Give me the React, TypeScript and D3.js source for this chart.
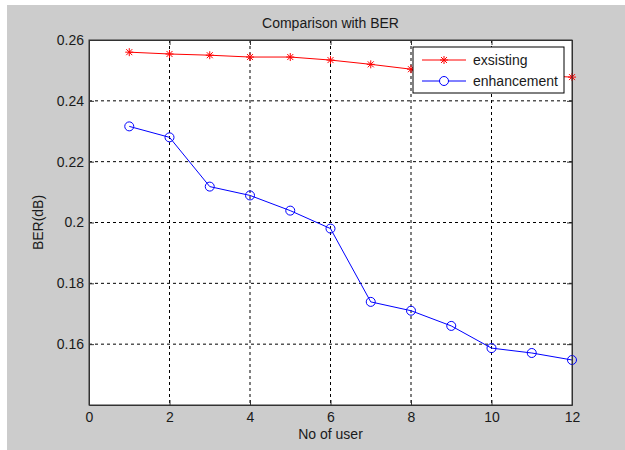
import { useEffect, useRef } from "react";
import * as d3 from "d3";

// values
const users = [1, 2, 3, 4, 5, 6, 7, 8, 9, 10, 11, 12];
const existing = [0.256, 0.2554, 0.255, 0.2544, 0.2544, 0.2534, 0.252, 0.2504, 0.2497, 0.249, 0.2484, 0.2478];
const enhancement = [0.2316, 0.228, 0.2118, 0.2089, 0.2039, 0.198, 0.1739, 0.171, 0.166, 0.1587, 0.1571, 0.1548];
const xTicks = [0, 2, 4, 6, 8, 10, 12];
const yTicks = [0.16, 0.18, 0.2, 0.22, 0.24, 0.26];
const seriesNames = ["exsisting", "enhancement"];

const App = () => {
    const svgRef = useRef<SVGSVGElement>(null);

    useEffect(() => {
        const W = 625;
        const H = 450;
        const margin = { top: 40, right: 53, bottom: 45, left: 89 };
        const width = W - margin.left - margin.right;
        const height = H - margin.top - margin.bottom;
        const font = "'Liberation Sans', Arial, sans-serif";
        const fontSize = 14;
        const textColor = "#1a1a1a";

        const root = d3.select(svgRef.current);
        root.selectAll("*").remove();
        root.attr("width", W).attr("height", H);

        // figure background
        root.append("rect").attr("width", W).attr("height", H).attr("fill", "#fff");
        root.append("rect")
            .attr("x", 7).attr("y", 5)
            .attr("width", W - 7).attr("height", H - 5)
            .attr("fill", "#cccccc");

        const svg = root.append("g").attr("transform", `translate(${margin.left},${margin.top})`);

        const x = d3.scaleLinear().domain([0, 12]).range([0, width]);
        const y = d3.scaleLinear().domain([0.14, 0.26]).range([height, 0]);

        svg.append("rect").attr("width", width).attr("height", height).attr("fill", "#fff");

        // dotted grid
        svg.append("g")
            .selectAll("line")
            .data(xTicks.slice(1, -1))
            .join("line")
            .attr("x1", (d) => x(d)).attr("x2", (d) => x(d))
            .attr("y1", 0).attr("y2", height)
            .attr("stroke", "#000").attr("stroke-width", 1)
            .attr("stroke-dasharray", "3,3");
        svg.append("g")
            .selectAll("line")
            .data(yTicks.slice(0, -1))
            .join("line")
            .attr("x1", 0).attr("x2", width)
            .attr("y1", (d) => y(d)).attr("y2", (d) => y(d))
            .attr("stroke", "#000").attr("stroke-width", 1)
            .attr("stroke-dasharray", "3,3");

        // axes with inward ticks
        const xAxis = svg.append("g")
            .attr("transform", `translate(0,${height})`)
            .call(d3.axisBottom(x).tickValues(xTicks).tickSizeInner(-5).tickSizeOuter(0).tickPadding(7));
        const xTop = svg.append("g")
            .call(d3.axisTop(x).tickValues(xTicks).tickSizeInner(-5).tickSizeOuter(0).tickFormat(() => ""));
        const yAxis = svg.append("g")
            .call(d3.axisLeft(y).tickValues(yTicks).tickSizeInner(-5).tickSizeOuter(0).tickPadding(5)
                .tickFormat((d) => String(+(+d).toFixed(2))));
        const yRight = svg.append("g")
            .attr("transform", `translate(${width},0)`)
            .call(d3.axisRight(y).tickValues(yTicks).tickSizeInner(-5).tickSizeOuter(0).tickFormat(() => ""));

        [xAxis, xTop, yAxis, yRight].forEach((g) => {
            g.selectAll("path").attr("stroke", "#333");
            g.selectAll("line").attr("stroke", "#333");
            g.selectAll("text")
                .attr("font-family", font)
                .attr("font-size", fontSize)
                .attr("fill", textColor);
        });

        const line = d3.line<number>()
            .x((_, i) => x(users[i]))
            .y((d) => y(d));

        // existing series (red, star markers)
        svg.append("path")
            .datum(existing)
            .attr("fill", "none")
            .attr("stroke", "#ff0000")
            .attr("stroke-width", 1)
            .attr("d", line);

        const star = (g, cx, cy, color) => {
            const s = 4;
            const gg = g.append("g").attr("stroke", color).attr("stroke-width", 1);
            gg.append("line").attr("x1", cx - s).attr("x2", cx + s).attr("y1", cy).attr("y2", cy);
            gg.append("line").attr("x1", cx).attr("x2", cx).attr("y1", cy - s).attr("y2", cy + s);
            gg.append("line").attr("x1", cx - 3).attr("x2", cx + 3).attr("y1", cy - 3).attr("y2", cy + 3);
            gg.append("line").attr("x1", cx - 3).attr("x2", cx + 3).attr("y1", cy + 3).attr("y2", cy - 3);
        };
        existing.forEach((d, i) => star(svg, x(users[i]), y(d), "#ff0000"));

        // enhancement series (blue, circle markers)
        svg.append("path")
            .datum(enhancement)
            .attr("fill", "none")
            .attr("stroke", "#0000ff")
            .attr("stroke-width", 1)
            .attr("d", line);
        svg.append("g")
            .selectAll("circle")
            .data(enhancement)
            .join("circle")
            .attr("cx", (_, i) => x(users[i]))
            .attr("cy", (d) => y(d))
            .attr("r", 4.5)
            .attr("fill", "none")
            .attr("stroke", "#0000ff")
            .attr("stroke-width", 1);

        // legend
        const legend = svg.append("g").attr("transform", `translate(${413 - margin.left},${47 - margin.top})`);
        legend.append("rect")
            .attr("width", 151).attr("height", 46)
            .attr("fill", "#fff").attr("stroke", "#000").attr("stroke-width", 1);
        const colors = ["#ff0000", "#0000ff"];
        seriesNames.forEach((name, i) => {
            const ly = 13 + i * 21;
            legend.append("line")
                .attr("x1", 9).attr("x2", 53).attr("y1", ly).attr("y2", ly)
                .attr("stroke", colors[i]).attr("stroke-width", 1);
            if (i === 0) star(legend, 31, ly, colors[i]);
            else legend.append("circle").attr("cx", 31).attr("cy", ly).attr("r", 4.5)
                .attr("fill", "#fff").attr("stroke", colors[i]);
            legend.append("text")
                .attr("x", 60).attr("y", ly)
                .attr("dy", "0.35em")
                .attr("font-family", font).attr("font-size", fontSize)
                .attr("fill", textColor)
                .text(name);
        });

        // outer box
        svg.append("rect").attr("width", width).attr("height", height)
            .attr("fill", "none").attr("stroke", "#333").attr("stroke-width", 1);

        // titles
        root.append("text")
            .attr("x", margin.left + width / 2).attr("y", 28)
            .attr("text-anchor", "middle")
            .attr("font-family", font).attr("font-size", fontSize)
            .attr("fill", textColor)
            .text("Comparison with BER");
        root.append("text")
            .attr("x", margin.left + width / 2).attr("y", 439)
            .attr("text-anchor", "middle")
            .attr("font-family", font).attr("font-size", fontSize)
            .attr("fill", textColor)
            .text("No of user");
        root.append("text")
            .attr("transform", `translate(43,${margin.top + height / 2}) rotate(-90)`)
            .attr("text-anchor", "middle")
            .attr("font-family", font).attr("font-size", fontSize)
            .attr("fill", textColor)
            .text("BER(dB)");
    }, []);

    return <svg ref={svgRef} style={{ position: "absolute", left: 0, top: 0, display: "block" }}></svg>;
};

export default App;
